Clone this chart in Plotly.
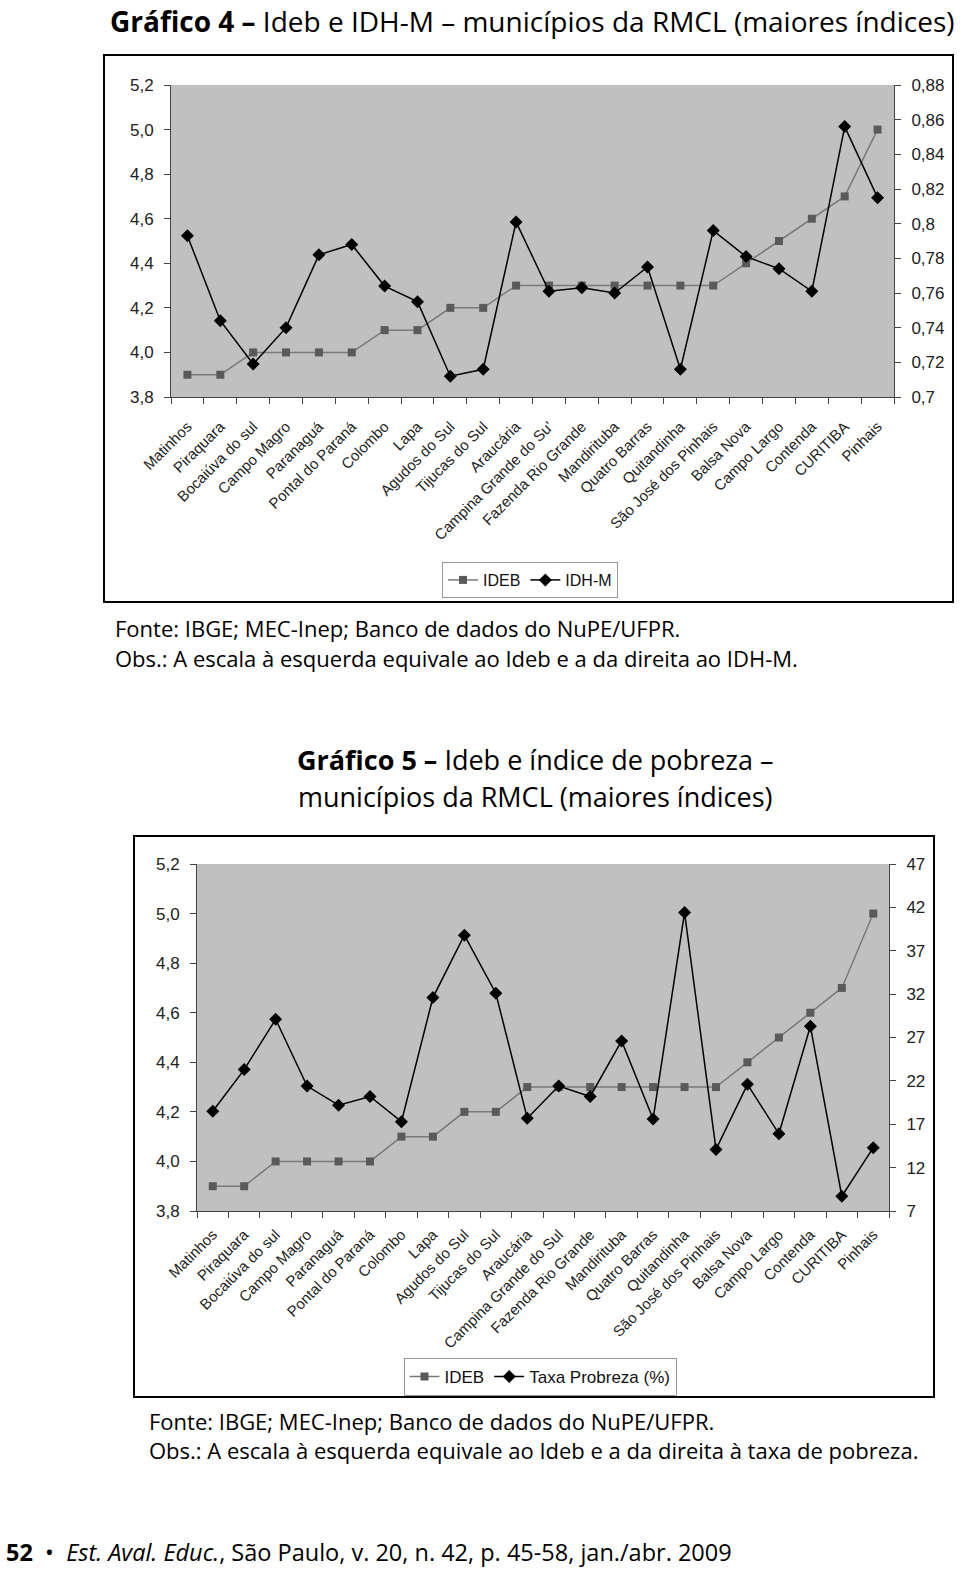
import plotly.graph_objects as go

# ---------------- data ----------------
categories = ["Matinhos", "Piraquara", "Bocaiúva do sul", "Campo Magro", "Paranaguá",
              "Pontal do Paraná", "Colombo", "Lapa", "Agudos do Sul", "Tijucas do Sul",
              "Araucária", "Campina Grande do Sul", "Fazenda Rio Grande", "Mandirituba",
              "Quatro Barras", "Quitandinha", "São José dos Pinhais", "Balsa Nova",
              "Campo Largo", "Contenda", "CURITIBA", "Pinhais"]
# chart 4 truncates one label
categories_g4 = list(categories)
categories_g4[11] = "Campina Grande do Su'"

ideb = [3.9, 3.9, 4.0, 4.0, 4.0, 4.0, 4.1, 4.1, 4.2, 4.2, 4.3, 4.3, 4.3, 4.3, 4.3, 4.3,
        4.3, 4.4, 4.5, 4.6, 4.7, 5.0]
idhm = [0.793, 0.744, 0.719, 0.740, 0.782, 0.788, 0.764, 0.755, 0.712, 0.716, 0.801,
        0.761, 0.763, 0.760, 0.775, 0.716, 0.796, 0.781, 0.774, 0.761, 0.856, 0.815]
pobreza = [18.5, 23.3, 29.1, 21.4, 19.2, 20.2, 17.3, 31.6, 38.8, 32.1, 17.7, 21.4, 20.2,
           26.6, 17.6, 41.4, 14.1, 21.6, 15.9, 28.3, 8.7, 14.3]

ideb_ticks = [3.8, 4.0, 4.2, 4.4, 4.6, 4.8, 5.0, 5.2]
ideb_ticktext = ["3,8", "4,0", "4,2", "4,4", "4,6", "4,8", "5,0", "5,2"]
idhm_ticks = [0.70, 0.72, 0.74, 0.76, 0.78, 0.80, 0.82, 0.84, 0.86, 0.88]
idhm_ticktext = ["0,7", "0,72", "0,74", "0,76", "0,78", "0,8", "0,82", "0,84", "0,86", "0,88"]
pob_ticks = [7, 12, 17, 22, 27, 32, 37, 42, 47]
pob_ticktext = ["7", "12", "17", "22", "27", "32", "37", "42", "47"]

W, H = 960, 1571


def px(x):
    return x / W


def py(y):
    return 1 - y / H


NARROW = "Liberation Sans Narrow, Arial Narrow, Liberation Sans, Arial, sans-serif"
TEXT = "Open Sans, Noto Sans, sans-serif"

fig = go.Figure()

ideb_marker = dict(symbol="square", size=8, color="#5a5a5a", line=dict(width=0))
ideb_line = dict(color="#7a7a7a", width=1.5)
dia_marker = dict(symbol="diamond", size=10, color="black", line=dict(width=0))
dia_line = dict(color="black", width=1.5)

# chart 4
fig.add_trace(go.Scatter(x=categories_g4, y=ideb, name="IDEB", mode="lines+markers",
                         marker=ideb_marker, line=ideb_line, xaxis="x", yaxis="y",
                         legend="legend"))
fig.add_trace(go.Scatter(x=categories_g4, y=idhm, name="IDH-M", mode="lines+markers",
                         marker=dia_marker, line=dia_line, xaxis="x", yaxis="y2",
                         legend="legend"))
# chart 5
fig.add_trace(go.Scatter(x=categories, y=ideb, name="IDEB", mode="lines+markers",
                         marker=ideb_marker, line=ideb_line, xaxis="x2", yaxis="y3",
                         legend="legend2"))
fig.add_trace(go.Scatter(x=categories, y=pobreza, name="Taxa Probreza (%)", mode="lines+markers",
                         marker=dia_marker, line=dia_line, xaxis="x2", yaxis="y4",
                         legend="legend2"))

axis_common = dict(showline=True, linecolor="#444", linewidth=1, ticks="outside",
                   ticklen=6, tickcolor="#444", showgrid=False, zeroline=False,
                   automargin=False, ticklabelstandoff=7,
                   tickfont=dict(family=NARROW, size=17, color="#222"))
xcommon = dict(axis_common, type="category", tickangle=-45, tickson="boundaries",
               range=[-0.5, 21.5], tickfont=dict(family=NARROW, size=15, color="#222"))

fig.update_layout(
    width=W, height=H, margin=dict(l=0, r=0, t=0, b=0, autoexpand=False),
    paper_bgcolor="white", plot_bgcolor="#c0c0c0",
    showlegend=True,
    xaxis=dict(xcommon, domain=[px(171), px(894)], anchor="y", ticklabelstandoff=14),
    yaxis=dict(axis_common, domain=[py(397), py(85)], range=[3.8, 5.2],
               tickvals=ideb_ticks, ticktext=ideb_ticktext, anchor="x", ticklabelstandoff=7),
    yaxis2=dict(axis_common, overlaying="y", side="right", range=[0.70, 0.88],
                tickvals=idhm_ticks, ticktext=idhm_ticktext, anchor="x"),
    xaxis2=dict(xcommon, domain=[px(197), px(889)], anchor="y3", ticklabelstandoff=8),
    yaxis3=dict(axis_common, domain=[py(1211), py(864)], range=[3.8, 5.2],
                tickvals=ideb_ticks, ticktext=ideb_ticktext, anchor="x2", ticklabelstandoff=7),
    yaxis4=dict(axis_common, overlaying="y3", side="right", range=[7, 47],
                tickvals=pob_ticks, ticktext=pob_ticktext, anchor="x2"),
    legend=dict(x=px(530), y=py(580), xanchor="center", yanchor="middle",
                orientation="h", bgcolor="white", bordercolor="#999", borderwidth=1,
                font=dict(family=NARROW, size=16, color="#111"), itemwidth=30,
                tracegroupgap=0),
    legend2=dict(x=px(540), y=py(1377), xanchor="center", yanchor="middle",
                 orientation="h", bgcolor="white", bordercolor="#999", borderwidth=1,
                 font=dict(family=NARROW, size=17, color="#111"), itemwidth=30,
                 tracegroupgap=0),
)

# outer frames
fig.add_shape(type="rect", xref="paper", yref="paper", x0=px(104), x1=px(953),
              y0=py(602), y1=py(55), line=dict(color="black", width=2))
fig.add_shape(type="rect", xref="paper", yref="paper", x0=px(134), x1=px(934),
              y0=py(1397), y1=py(836), line=dict(color="black", width=2))


def note(x, y, text, size, anchor="left", family=TEXT, yanchor="middle"):
    fig.add_annotation(x=px(x), y=py(y), xref="paper", yref="paper", text=text,
                       showarrow=False, xanchor=anchor, yanchor=yanchor,
                       font=dict(family=family, size=size, color="black"))


note(532, 0, "<b>Gráfico 4 –</b> Ideb e IDH-M – municípios da RMCL (maiores índices)", 28,
     anchor="center", yanchor="top")
note(113, 628, "Fonte: IBGE; MEC-Inep; Banco de dados do NuPE/UFPR.", 22)
note(113, 658, "Obs.: A escala à esquerda equivale ao Ideb e a da direita ao IDH-M.", 22)
note(535, 759, "<b>Gráfico 5 –</b> Ideb e índice de pobreza –", 27, anchor="center")
note(535, 796, "municípios da RMCL (maiores índices)", 27, anchor="center")
note(147, 1421, "Fonte: IBGE; MEC-Inep; Banco de dados do NuPE/UFPR.", 22)
note(147, 1450, "Obs.: A escala à esquerda equivale ao Ideb e a da direita à taxa de pobreza.", 22)
note(4, 1552, "<b>52</b>  •  <i>Est. Aval. Educ.</i>, São Paulo, v. 20, n. 42, p. 45-58, jan./abr. 2009", 23.5)

fig.write_html("out.html")
